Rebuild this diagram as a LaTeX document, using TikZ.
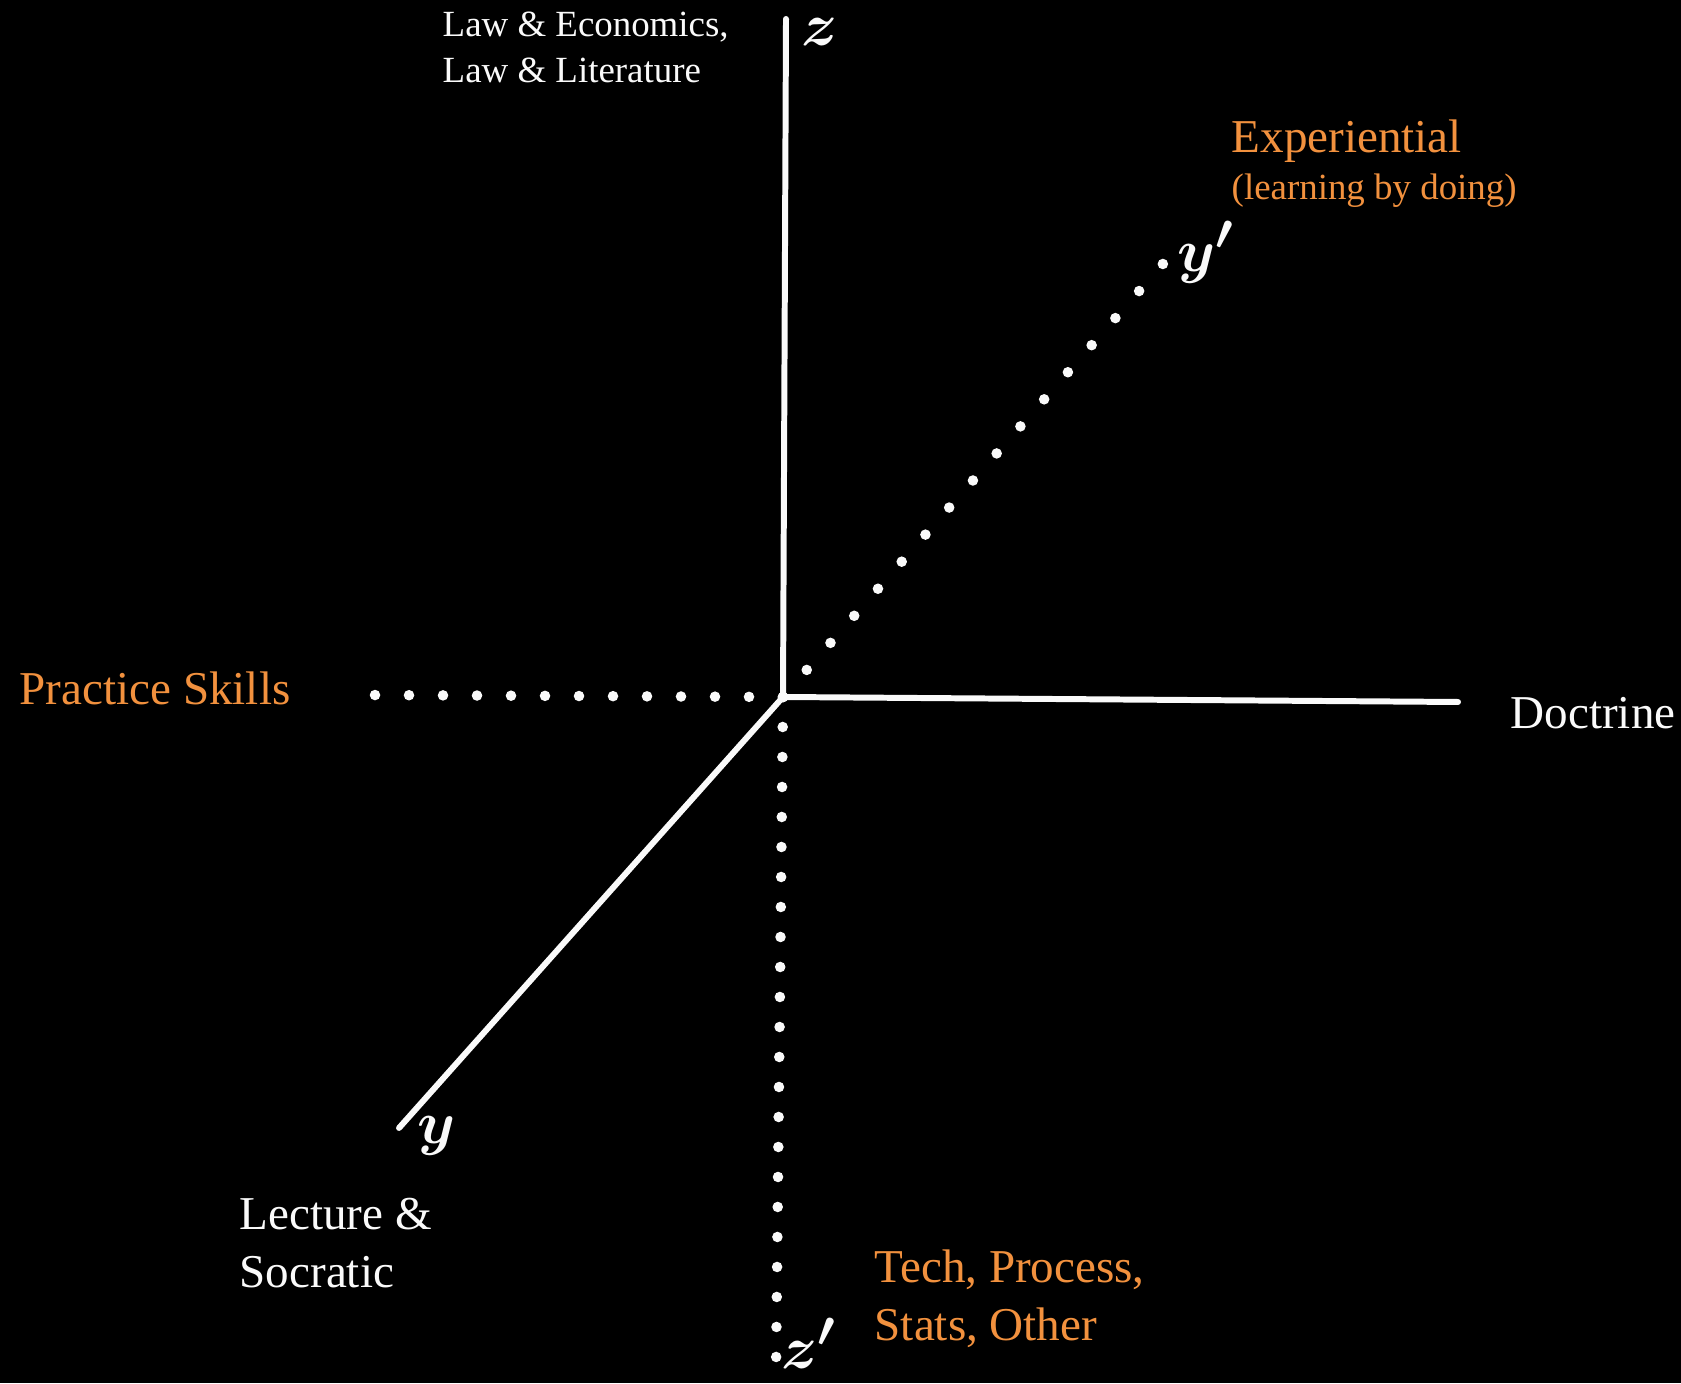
\documentclass[tikz,border=0pt]{standalone}
\usepackage{fontspec}
\setmainfont{LiberationSerif}[
  Extension=.ttf,
  UprightFont=*-Regular,
  BoldFont=*-Bold,
  ItalicFont=*-Italic,
  BoldItalicFont=*-BoldItalic]
\usepackage{xcolor}
\definecolor{axorange}{RGB}{242,145,62}
\definecolor{axwhite}{RGB}{250,250,250}
\usepackage{tikz}
\usetikzlibrary{calc}

\begin{document}
\begin{tikzpicture}[
  axisline/.style={axwhite, line width=1.7pt, line cap=round},
  dotline/.style={axwhite, line width=3pt, line cap=round, dash pattern=on 0pt off #1},
  dotline/.default=0.34cm,
  bigtxt/.style={font=\fontsize{13.4}{16.5}\selectfont, inner sep=0pt, anchor=west, align=left},
  smalltxt/.style={font=\fontsize{10.5}{13.1}\selectfont, inner sep=0pt, anchor=west, align=left},
  hand/.style={axwhite, font=\fontsize{19}{19}\selectfont\boldmath, inner sep=0pt}]

% ===== Background =====
\fill[black] (0,0) rectangle (16.81,13.83);
\useasboundingbox (0,0) rectangle (16.81,13.83);

% ===== Axis end points =====
\coordinate (orig)  at (7.83,6.86);
\coordinate (ztop)  at (7.86,13.64);
\coordinate (xend)  at (14.58,6.81);
\coordinate (xneg)  at (3.62,6.88);
\coordinate (yend)  at (3.99,2.55);
\coordinate (yneg)  at (11.69,11.26);
\coordinate (zneg)  at (7.76,0.11);

% Solid axes
\draw[axisline] (orig) -- (ztop);
\draw[axisline] (orig) -- (xend);
\draw[axisline] (orig) -- (yend);

% Dotted axes
\draw[dotline] (orig) -- (xneg);
\draw[dotline=0.36cm] (orig) -- (yneg);
\draw[dotline=0.30cm] (orig) -- (zneg);

% Hand-written axis letters
\node[hand] (zlab)  at (8.20,13.51) {$z$};
\node[hand] (ylab)  at (4.37,2.47)  {$y$};
\node[hand] (yplab) at (12.06,11.31) {$y'$};
\node[hand] (zplab) at (8.09,0.40)  {$z'$};

% ===== Labels =====
\node[smalltxt, text=axwhite] (theory) at (4.42,13.36)
      {Law \& Economics,\\Law \& Literature};

\node[bigtxt, text=axorange] (exper) at (12.31,12.42) {Experiential};
\node[smalltxt, text=axorange] (doing) at (12.31,11.92) {(learning by doing)};

\node[bigtxt, text=axorange] (skills) at (0.19,6.95) {Practice Skills};

\node[bigtxt, text=axwhite] (doctrine) at (15.10,6.70) {Doctrine};

\node[bigtxt, text=axwhite] (lecture) at (2.39,1.40) {Lecture \&\\Socratic};

\node[bigtxt, text=axorange] (tech) at (8.74,0.84) {Tech, Process,\\Stats, Other};

\end{tikzpicture}
\end{document}
